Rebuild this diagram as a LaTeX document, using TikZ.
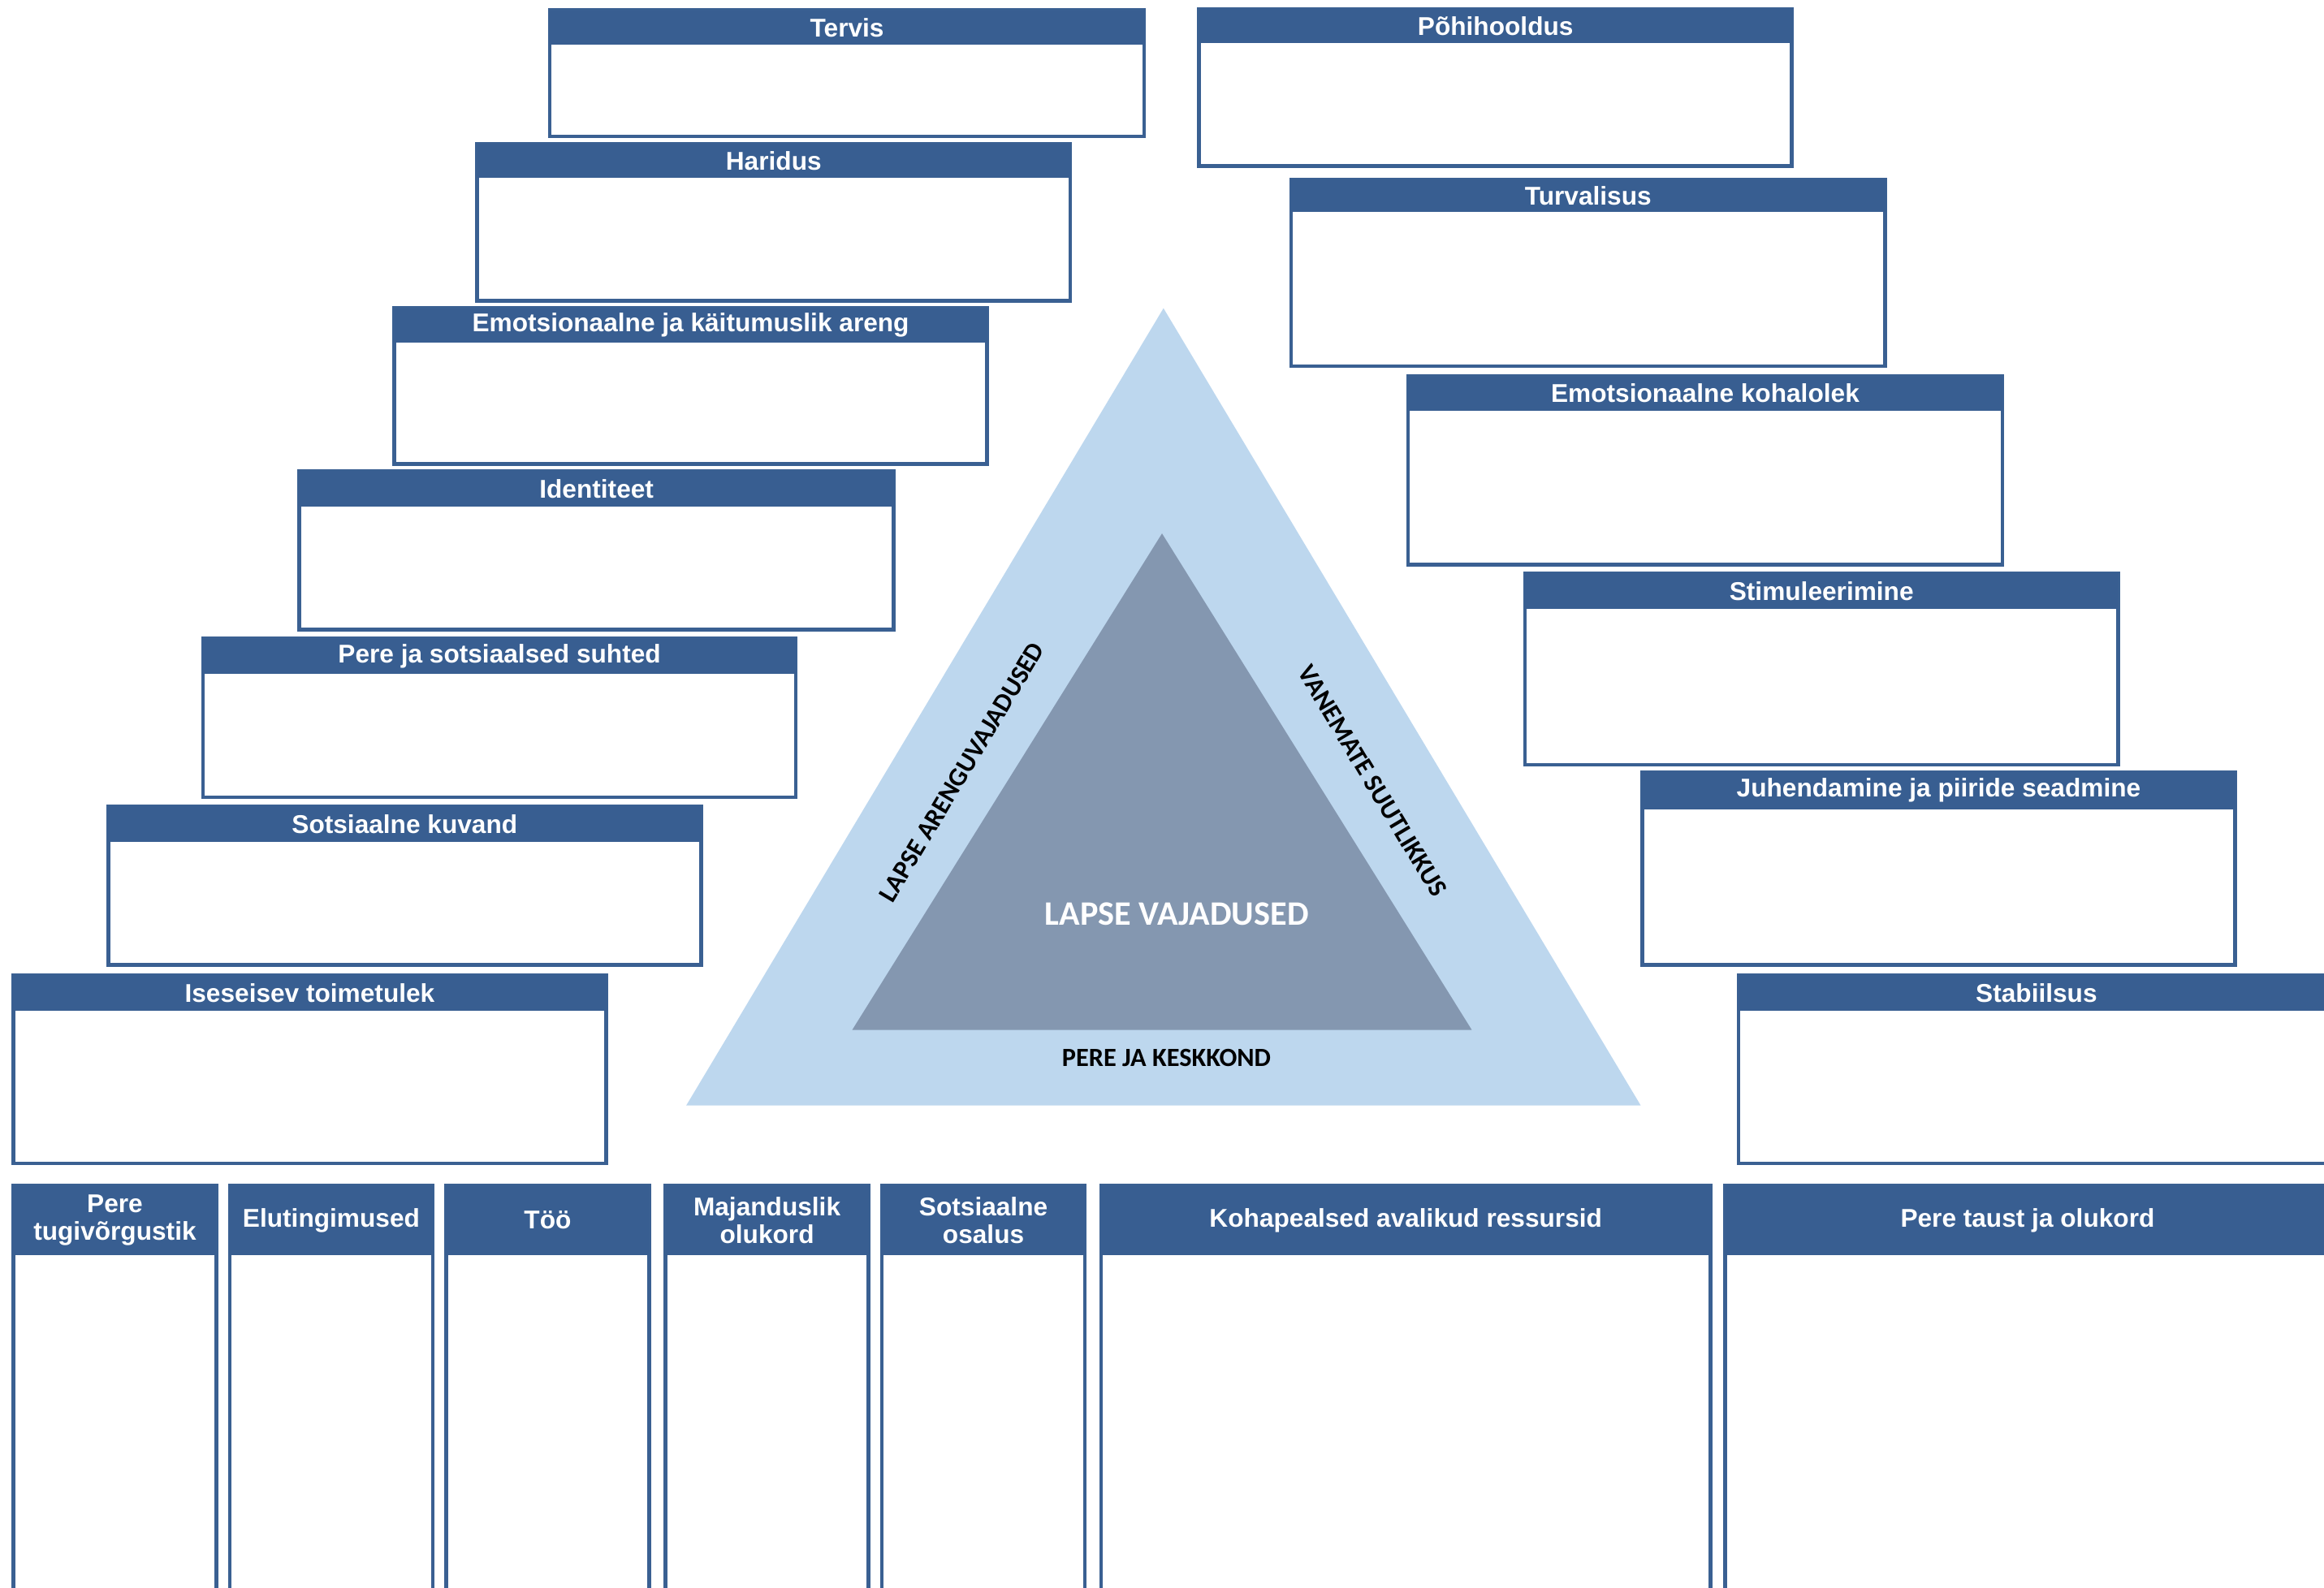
\documentclass[tikz,border=0pt]{standalone}
\usepackage{fontspec}
\setmainfont{Liberation Sans}
\newfontfamily\trifont{Carlito}
\usepackage{xcolor}
\definecolor{headblue}{RGB}{56,94,145}
\definecolor{lineblue}{RGB}{58,96,146}
\definecolor{outerblue}{RGB}{189,215,238}
\definecolor{innerblue}{RGB}{132,151,176}

\begin{document}
\begin{tikzpicture}[x=0.01825cm, y=-0.01825cm,
	boxline/.style={draw=lineblue, line width=1.3pt, fill=white},
	headfill/.style={fill=headblue},
	headtext/.style={text=white, font=\fontsize{9}{9.6}\selectfont\bfseries, align=center, inner sep=0pt},
	tritext/.style={font=\trifont\fontsize{9.2}{10}\selectfont\bfseries, inner sep=0pt}]
			\useasboundingbox (0,0) rectangle (1568,1071.2);
			% triangle
			\fill [outerblue] (785,208) -- (1107,746) -- (463,746) -- cycle;
			\fill [innerblue] (784,360) -- (993,695) -- (575,695) -- cycle;
			\node [tritext, text=white, font=\trifont\fontsize{12}{14}\selectfont\bfseries] (vajadused) at (794,617) {LAPSE VAJADUSED};
			\node [tritext] (keskkond) at (787,714) {PERE JA KESKKOND};
			\node [tritext, rotate=59.1] (areng) at (649,521) {LAPSE ARENGUVAJADUSED};
			\node [tritext, rotate=-59.1] (suutlikkus) at (926,527) {VANEMATE SUUTLIKKUS};
			% boxes: x1/y1/x2/y2/header bottom/name/title
			\foreach \xa/\ya/\xb/\yb/\yh/\nm/\txt in {
				371/7/772/92/30/tervis/Tervis,
				322/97/722/203/120/haridus/Haridus,
				266/208/666/313/231/emots/Emotsionaalne ja käitumuslik areng,
				202/318/603/425/342/ident/Identiteet,
				137/431/537/538/455/suhted/Pere ja sotsiaalsed suhted,
				73/544/473/651/568/kuvand/Sotsiaalne kuvand,
				9/658/409/785/682/toimetulek/Iseseisev toimetulek,
				809/6/1209/112/29/hooldus/Põhihooldus,
				871/121/1272/247/143/turvalisus/Turvalisus,
				950/254/1351/381/277/kohalolek/Emotsionaalne kohalolek,
				1029/387/1429/516/411/stimul/Stimuleerimine,
				1108/521/1508/651/546/juhend/Juhendamine ja piiride seadmine,
				1173/658/1575/785/682/stabiilsus/Stabiilsus,
				9/800/146/1085/847/tugi/{Pere\\tugivõrgustik},
				155/800/292/1085/847/elu/Elutingimused,
				301/800/438/1085/847/too/Töö,
				449/800/586/1085/847/majandus/{Majanduslik\\olukord},
				595/800/732/1085/847/osalus/{Sotsiaalne\\osalus},
				743/800/1154/1085/847/ressursid/Kohapealsed avalikud ressursid,
				1164/800/1572/1085/847/taust/Pere taust ja olukord} {
				\draw [boxline] (\xa,\ya) rectangle (\xb,\yb);
				\fill [headfill] (\xa,\ya) rectangle (\xb,\yh);
				\node [headtext] (\nm) at ({(\xa+\xb)/2},{(\ya+\yh)/2}) {\txt};
			}
		\end{tikzpicture}
\end{document}
